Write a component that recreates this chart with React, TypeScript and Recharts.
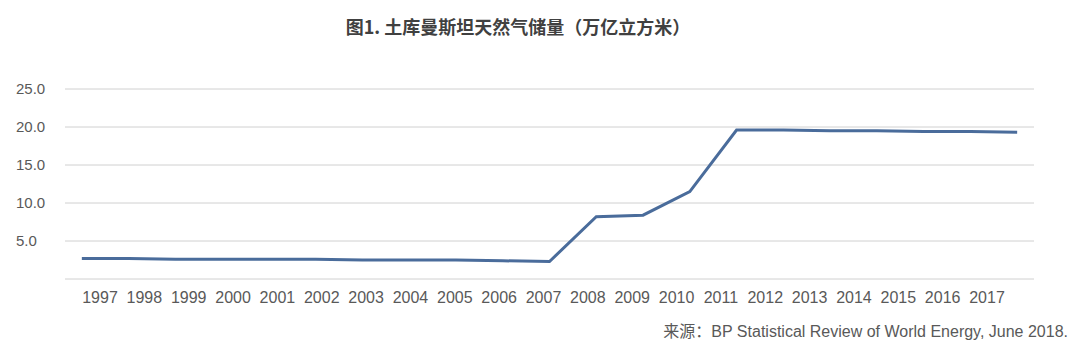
import { CartesianGrid, Line, LineChart, XAxis, YAxis } from "recharts"

const years = [
  1997, 1998, 1999, 2000, 2001, 2002, 2003, 2004, 2005, 2006, 2007,
  2008, 2009, 2010, 2011, 2012, 2013, 2014, 2015, 2016, 2017
]

const reserves = [
  2.7, 2.7, 2.6, 2.6, 2.6, 2.6, 2.5, 2.5, 2.5, 2.4, 2.3,
  8.2, 8.4, 11.5, 19.6, 19.6, 19.5, 19.5, 19.4, 19.4, 19.3
]

const yTicks = [0, 5, 10, 15, 20, 25]

const data = years.map((y, i) => ({ year: y, label: String(y), value: reserves[i] }))

const textColor = "#595959"
const font = "'Liberation Sans', Arial, sans-serif"

function YTick(props: any) {
  const { y, payload } = props
  if (payload.value === 0) return null
  return (
    <text x={16} y={y} dy="0.355em" textAnchor="start" fill={textColor} fontSize={15} fontFamily={font}>
      {payload.value.toFixed(1)}
    </text>
  )
}

export default function App() {
  return (
    <div style={{ position: "absolute", left: 0, top: 0, width: 1080, height: 354, background: "#fff" }}>
      <div
        style={{
          position: "absolute",
          top: 13,
          left: 0,
          width: 1036,
          textAlign: "center",
          fontFamily: "'Noto Sans CJK SC', sans-serif",
          fontWeight: "bold",
          fontSize: 18,
          color: "#404040",
          lineHeight: "26px"
        }}
      >
        图1. 土库曼斯坦天然气储量（万亿立方米）
      </div>
      <LineChart width={1080} height={354} data={data} margin={{ top: 89, right: 46, left: 0, bottom: 45 }}>
        <CartesianGrid horizontal vertical={false} stroke="#d0d0d0" />
        <XAxis dataKey="year" type="number" domain={[1996.64, 2017.36]} hide height={0} />
        <XAxis
          xAxisId="cat"
          dataKey="label"
          type="category"
          padding={{ left: 35, right: 47 }}
          axisLine={false}
          tickLine={false}
          tickMargin={7}
          interval={0}
          height={30}
          tick={{ fill: textColor, fontSize: 16, fontFamily: font }}
        />
        <YAxis
          domain={[0, 25]}
          ticks={yTicks}
          width={65}
          axisLine={false}
          tickLine={false}
          tick={<YTick />}
        />
        <Line
          dataKey="value"
          stroke="#4a6c9b"
          strokeWidth={3}
          dot={false}
          activeDot={false}
          isAnimationActive={false}
        />
      </LineChart>
      <div
        style={{
          position: "absolute",
          top: 322,
          right: 12,
          fontFamily: "'Liberation Sans', 'Noto Sans CJK SC', sans-serif",
          fontSize: 16,
          color: textColor,
          lineHeight: "20px",
          whiteSpace: "nowrap"
        }}
      >
        来源：BP Statistical Review of World Energy, June 2018.
      </div>
    </div>
  )
}
